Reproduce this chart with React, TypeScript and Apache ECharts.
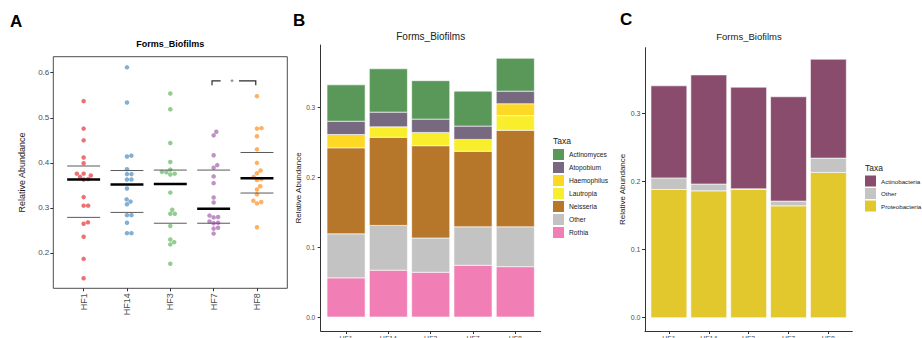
import React, { useEffect, useRef } from "react";
import * as echarts from "echarts";

const FONT = '"Liberation Sans", Arial, Helvetica, sans-serif';

// Sample groups shared by the three panels
const groups = ["HF1", "HF14", "HF3", "HF7", "HF8"];

// Panel A: per-sample relative abundance in each group
const hf1 = [0.537, 0.476, 0.45, 0.412, 0.399, 0.376, 0.376, 0.372, 0.369, 0.364, 0.363, 0.324, 0.305, 0.305, 0.268, 0.265, 0.236, 0.187, 0.144];
const hf14 = [0.612, 0.534, 0.416, 0.414, 0.386, 0.375, 0.375, 0.363, 0.363, 0.343, 0.319, 0.314, 0.308, 0.284, 0.284, 0.267, 0.244, 0.244];
const hf3 = [0.554, 0.519, 0.444, 0.402, 0.385, 0.38, 0.379, 0.376, 0.374, 0.334, 0.296, 0.287, 0.287, 0.26, 0.23, 0.224, 0.219, 0.176];
const hf7 = [0.469, 0.461, 0.417, 0.395, 0.389, 0.37, 0.355, 0.323, 0.312, 0.283, 0.28, 0.279, 0.27, 0.267, 0.266, 0.256, 0.254, 0.243];
const hf8 = [0.548, 0.477, 0.476, 0.459, 0.43, 0.4, 0.383, 0.377, 0.369, 0.364, 0.362, 0.348, 0.341, 0.33, 0.316, 0.313, 0.31, 0.257];
const groupSamples = [hf1, hf14, hf3, hf7, hf8];
const groupColors = ["#E41A1C", "#377EB8", "#4DAF4A", "#984EA3", "#FF7F00"];

// Summary lines per group
const medians = [0.363, 0.352, 0.353, 0.298, 0.366];
const upperQuartiles = [0.393, 0.383, 0.384, 0.384, 0.423];
const lowerQuartiles = [0.279, 0.29, 0.266, 0.266, 0.333];

// Significant pair (1-based group positions) and bracket height
const sigPair = [4, 5];
const sigLevel = 0.582;
const sigLabel = "*";

// Panel B: genus-level mean abundance
const generaB = ["Actinomyces", "Atopobium", "Haemophilus", "Lautropia", "Neisseria", "Other", "Rothia"];
const actinomyces = [0.052, 0.062, 0.055, 0.05, 0.047];
const atopobium = [0.019, 0.021, 0.019, 0.019, 0.018];
const haemophilus = [0.019, 0, 0, 0, 0.017];
const lautropia = [0, 0.015, 0.019, 0.017, 0.021];
const neisseria = [0.123, 0.126, 0.132, 0.108, 0.138];
const otherGenus = [0.063, 0.064, 0.049, 0.055, 0.057];
const rothia = [0.056, 0.067, 0.064, 0.074, 0.072];
const generaColors = ["#5A985A", "#77697F", "#FDD824", "#F8EE2C", "#B7772A", "#C3C3C3", "#F17FB5"];

// Panel C: phylum-level mean abundance
const phylaC = ["Actinobacteria", "Other", "Proteobacteria"];
const actinobacteria = [0.135, 0.16, 0.149, 0.153, 0.145];
const otherPhylum = [0.017, 0.01, 0.001, 0.007, 0.021];
const proteobacteria = [0.188, 0.186, 0.188, 0.164, 0.213];
const phylaColors = ["#8A4C6D", "#C4C4C4", "#E3C82D"];

const groupPositions = groups.map((_, i) => i + 1);

// Layout of the three panels
const gridA = { left: 53.3, top: 56.7, width: 234, height: 231.6 };
const gridB = { left: 320.7, top: 45, width: 220, height: 286 };
const gridC = { left: 645, top: 47.7, width: 207.3, height: 283.3 };
const axA = { xMin: 0.3, xMax: 5.7, yMin: 0.1216, yMax: 0.6356 };
const axB = { xMin: 0.4, xMax: 5.6, yMin: -0.02, yMax: 0.389 };
const axC = { xMin: 0.4, xMax: 5.6, yMin: -0.0195, yMax: 0.3959 };

const DOT = 4.5;

// Beeswarm offsets (in x-axis units) so that dots with close values sit side by side
function swarmOffsets(values: number[]): number[] {
  const pxX = gridA.width / (axA.xMax - axA.xMin);
  const pxY = gridA.height / (axA.yMax - axA.yMin);
  const order = values.map((_, i) => i).sort((a, b) => values[a] - values[b]);
  const placed: { x: number; y: number }[] = [];
  const out = new Array(values.length).fill(0);
  for (const i of order) {
    const y = values[i] * pxY;
    const near = placed.filter((p) => Math.abs(p.y - y) < DOT);
    const cands = [0];
    for (const p of near) {
      const dx = Math.sqrt(DOT * DOT - (p.y - y) * (p.y - y));
      cands.push(p.x + dx, p.x - dx);
    }
    cands.sort((a, b) => Math.abs(a) - Math.abs(b));
    let x = 0;
    for (const c of cands) {
      if (near.every((p) => (p.x - c) ** 2 + (p.y - y) ** 2 >= DOT * DOT - 1e-6)) {
        x = c;
        break;
      }
    }
    placed.push({ x, y });
    out[i] = x / pxX;
  }
  return out;
}

function barRect(halfWidth: number) {
  return (_params: any, api: any) => {
    const x = api.value(0);
    const lo = api.value(1);
    const hi = api.value(2);
    if (!(hi - lo > 0)) return null;
    const a = api.coord([x - halfWidth, hi]);
    const b = api.coord([x + halfWidth, lo]);
    return {
      type: "rect",
      shape: { x: a[0], y: a[1], width: b[0] - a[0], height: b[1] - a[1] },
      style: { fill: api.visual("color"), stroke: "#ffffff", lineWidth: 0.6 },
    };
  };
}

// Stack layers given bottom-first
function stacked(layers: { name: string; values: number[]; color: string }[], axisIndex: number) {
  const base = groups.map(() => 0);
  return layers.map((layer) => {
    const data = layer.values.map((v, i) => {
      const lo = base[i];
      base[i] = lo + v;
      return [i + 1, lo, base[i]];
    });
    return {
      type: "custom",
      name: layer.name,
      xAxisIndex: axisIndex,
      yAxisIndex: axisIndex,
      itemStyle: { color: layer.color },
      encode: { x: 0, y: [1, 2] },
      renderItem: barRect(0.45),
      data,
      silent: true,
    };
  });
}

function valueAxis(grid: number, min: number, max: number, extra: any) {
  return {
    type: "value",
    gridIndex: grid,
    min,
    max,
    splitLine: { show: false },
    ...extra,
  };
}

function buildOption() {
  const tickText = { fontFamily: FONT, color: "#4d4d4d" };

  const scatter = groupSamples.map((vals, gi) => {
    const offs = swarmOffsets(vals);
    return {
      type: "scatter",
      name: groups[gi],
      xAxisIndex: 0,
      yAxisIndex: 0,
      symbolSize: DOT,
      itemStyle: { color: groupColors[gi], opacity: 0.62 },
      data: vals.map((v, i) => [gi + 1 + offs[i], v]),
      silent: true,
      z: 2,
    };
  });

  const summary = {
    type: "custom",
    xAxisIndex: 0,
    yAxisIndex: 0,
    z: 3,
    silent: true,
    encode: { x: 0, y: [1, 2, 3] },
    data: groupPositions.map((p, i) => [p, medians[i], upperQuartiles[i], lowerQuartiles[i]]),
    renderItem: (_p: any, api: any) => {
      const x = api.value(0);
      const seg = (v: number, w: number, c: string) => {
        const a = api.coord([x - 0.38, v]);
        const b = api.coord([x + 0.38, v]);
        return { type: "line", shape: { x1: a[0], y1: a[1], x2: b[0], y2: b[1] }, style: { stroke: c, lineWidth: w } };
      };
      return {
        type: "group",
        children: [seg(api.value(2), 1, "#5a5a5a"), seg(api.value(3), 1, "#5a5a5a"), seg(api.value(1), 2.6, "#000000")],
      };
    },
  };

  const bracket = {
    type: "custom",
    xAxisIndex: 0,
    yAxisIndex: 0,
    z: 3,
    silent: true,
    encode: { x: [0, 1], y: 2 },
    data: [[sigPair[0], sigPair[1], sigLevel]],
    renderItem: (_p: any, api: any) => {
      const a = api.coord([api.value(0), api.value(2)]);
      const b = api.coord([api.value(1), api.value(2)]);
      const mid = (a[0] + b[0]) / 2;
      const drop = 4.5;
      const ls = { stroke: "#2b2b2b", lineWidth: 1.2, fill: null };
      return {
        type: "group",
        children: [
          { type: "polyline", shape: { points: [[a[0] - 1.6, a[1] + drop], [a[0] - 1.6, a[1]], [a[0] + 7, a[1]]] }, style: ls },
          { type: "polyline", shape: { points: [[mid + 3.7, a[1]], [b[0] - 1.2, a[1]], [b[0] - 1.2, a[1] + drop]] }, style: ls },
          {
            type: "text",
            x: mid - 3.3,
            y: a[1] + 1.5,
            style: { text: sigLabel, fill: "#6f6f6f", fontSize: 9, fontFamily: FONT, align: "center", verticalAlign: "middle" },
          },
        ],
      };
    },
  };

  const seriesB = stacked(
    [
      { name: "Rothia", values: rothia, color: generaColors[6] },
      { name: "Other", values: otherGenus, color: generaColors[5] },
      { name: "Neisseria", values: neisseria, color: generaColors[4] },
      { name: "Lautropia", values: lautropia, color: generaColors[3] },
      { name: "Haemophilus", values: haemophilus, color: generaColors[2] },
      { name: "Atopobium", values: atopobium, color: generaColors[1] },
      { name: "Actinomyces", values: actinomyces, color: generaColors[0] },
    ],
    1
  );

  // Phylum "Other" gets a distinct internal name so its legend stays separate from the genus one
  const seriesC = stacked(
    [
      { name: "Proteobacteria", values: proteobacteria, color: phylaColors[2] },
      { name: phylaC[1] + " ", values: otherPhylum, color: phylaColors[1] },
      { name: "Actinobacteria", values: actinobacteria, color: phylaColors[0] },
    ],
    2
  );

  const classicLine = { show: true, onZero: false, lineStyle: { color: "#333333", width: 1 } };
  const classicTick = { show: true, length: 3, lineStyle: { color: "#333333", width: 1 } };

  const text = (t: string, x: number, y: number, size: number, weight: string, align: string, color = "#000000") => ({
    type: "text",
    x,
    y,
    silent: true,
    style: { text: t, fontSize: size, fontWeight: weight, fontFamily: FONT, fill: color, align, verticalAlign: "middle" },
  });

  const gridCommon = { outerBoundsMode: "none", containLabel: false };

  return {
    animation: false,
    backgroundColor: "#ffffff",
    textStyle: { fontFamily: FONT },
    grid: [
      { ...gridA, ...gridCommon, show: true, borderColor: "#4d4d4d", borderWidth: 1, backgroundColor: "transparent" },
      { ...gridB, ...gridCommon },
      { ...gridC, ...gridCommon },
    ],
    xAxis: [
      valueAxis(0, axA.xMin, axA.xMax, {
        axisLine: { show: false, onZero: false },
        axisTick: { show: true, length: 3, customValues: groupPositions, lineStyle: { color: "#333333" } },
        axisLabel: {
          customValues: groupPositions,
          formatter: (v: number) => groups[Math.round(v) - 1],
          rotate: 90,
          fontSize: 9,
          margin: 5,
          ...tickText,
        },
      }),
      valueAxis(1, axB.xMin, axB.xMax, {
        axisLine: classicLine,
        axisTick: { ...classicTick, customValues: groupPositions },
        axisLabel: {
          customValues: groupPositions,
          formatter: (v: number) => groups[Math.round(v) - 1],
          fontSize: 7,
          margin: 3.5,
          ...tickText,
        },
      }),
      valueAxis(2, axC.xMin, axC.xMax, {
        axisLine: classicLine,
        axisTick: { ...classicTick, customValues: groupPositions },
        axisLabel: {
          customValues: groupPositions,
          formatter: (v: number) => groups[Math.round(v) - 1],
          fontSize: 7,
          margin: 3.5,
          ...tickText,
        },
      }),
    ],
    yAxis: [
      valueAxis(0, axA.yMin, axA.yMax, {
        axisLine: { show: false, onZero: false },
        axisTick: { show: true, length: 3, customValues: [0.2, 0.3, 0.4, 0.5, 0.6], lineStyle: { color: "#333333" } },
        axisLabel: {
          customValues: [0.2, 0.3, 0.4, 0.5, 0.6],
          formatter: (v: number) => v.toFixed(1),
          fontSize: 8,
          margin: 4,
          ...tickText,
        },
        name: "Relative Abundance",
        nameLocation: "middle",
        nameGap: 27,
        nameTextStyle: { fontSize: 9, color: "#1a1a1a", fontFamily: FONT },
      }),
      valueAxis(1, axB.yMin, axB.yMax, {
        axisLine: classicLine,
        axisTick: { ...classicTick, customValues: [0, 0.1, 0.2, 0.3] },
        axisLabel: {
          customValues: [0, 0.1, 0.2, 0.3],
          formatter: (v: number) => v.toFixed(1),
          fontSize: 6.5,
          margin: 5.5,
          ...tickText,
        },
        name: "Relative Abundance",
        nameLocation: "middle",
        nameGap: 13,
        nameTextStyle: { fontSize: 8, color: "#1a1a1a", fontFamily: FONT },
      }),
      valueAxis(2, axC.yMin, axC.yMax, {
        axisLine: classicLine,
        axisTick: { ...classicTick, customValues: [0, 0.1, 0.2, 0.3] },
        axisLabel: {
          customValues: [0, 0.1, 0.2, 0.3],
          formatter: (v: number) => v.toFixed(1),
          fontSize: 7,
          margin: 4.5,
          ...tickText,
        },
        name: "Relative Abundance",
        nameLocation: "middle",
        nameGap: 14,
        nameTextStyle: { fontSize: 8, color: "#1a1a1a", fontFamily: FONT },
      }),
    ],
    legend: [
      {
        data: generaB,
        orient: "vertical",
        left: 553,
        top: 149,
        padding: 0,
        itemWidth: 11,
        itemHeight: 11,
        itemGap: 2,
        icon: "rect",
        selectedMode: false,
        textStyle: { fontSize: 6.7, color: "#1a1a1a", fontFamily: FONT },
      },
      {
        data: ["Actinobacteria", phylaC[1] + " ", "Proteobacteria"],
        formatter: (n: string) => n.trim(),
        orient: "vertical",
        left: 865,
        top: 175.5,
        padding: 0,
        itemWidth: 11,
        itemHeight: 11,
        itemGap: 1.5,
        itemStyle: { borderWidth: 0 },
        icon: "rect",
        selectedMode: false,
        textStyle: { fontSize: 6.2, color: "#1a1a1a", fontFamily: FONT },
      },
    ],
    graphic: [
      text("A", 10, 21, 17, "bold", "left"),
      text("B", 293, 20, 17, "bold", "left"),
      text("C", 620, 19.5, 17, "bold", "left"),
      text("Forms_Biofilms", 170.3, 43.7, 9, "bold", "center"),
      text("Forms_Biofilms", 430.7, 36, 10, "normal", "center", "#1a1a1a"),
      text("Forms_Biofilms", 749, 36.7, 9.5, "normal", "center", "#1a1a1a"),
      text("Taxa", 553, 141, 8.5, "normal", "left", "#1a1a1a"),
      text("Taxa", 865, 168, 8.5, "normal", "left", "#1a1a1a"),
    ],
    series: [...scatter, summary, bracket, ...seriesB, ...seriesC],
  };
}

export default function App() {
  const ref = useRef<HTMLDivElement>(null);
  useEffect(() => {
    if (!ref.current) return;
    const chart = echarts.init(ref.current, undefined, { renderer: "svg" });
    chart.setOption(buildOption() as any);
    return () => chart.dispose();
  }, []);
  return (
    <div
      ref={ref}
      style={{ position: "absolute", left: 0, top: 0, width: 922, height: 338, background: "#ffffff" }}
    />
  );
}
